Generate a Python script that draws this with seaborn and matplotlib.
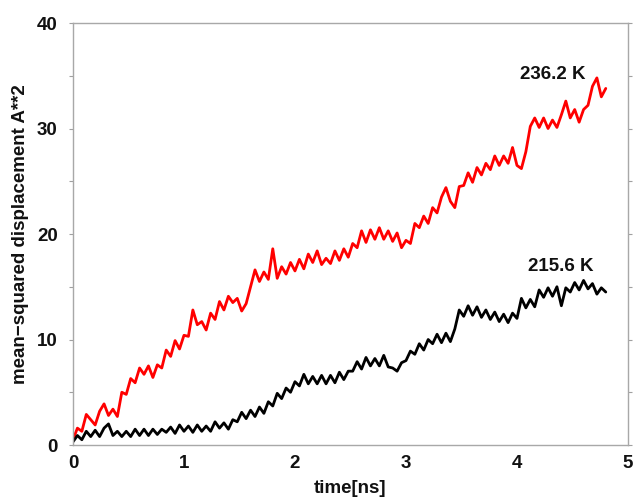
import numpy as np
import pandas as pd
import matplotlib
matplotlib.use("Agg")
import matplotlib.pyplot as plt
import seaborn as sns

# time grid (ns)
time_ns = [round(0.04 * i, 2) for i in range(121)]

msd_236 = [0.5, 1.6, 1.3, 2.9, 2.4, 1.9, 3.2, 3.9, 2.8, 3.4,
           2.7, 5.0, 4.8, 6.3, 5.9, 7.3, 6.7, 7.5, 6.4, 7.6,
           7.3, 9.0, 8.4, 9.9, 9.1, 10.4, 10.3, 12.8, 11.4, 11.7,
           10.9, 12.5, 11.9, 13.6, 12.8, 14.1, 13.5, 13.9, 12.7, 13.4,
           15.0, 16.6, 15.5, 16.4, 15.7, 18.6, 15.8, 16.9, 16.2, 17.3,
           16.5, 17.6, 16.7, 18.1, 17.3, 18.4, 17.1, 17.7, 17.2, 18.4,
           17.5, 18.6, 17.8, 19.1, 18.7, 20.3, 19.2, 20.4, 19.5, 20.6,
           19.5, 20.3, 19.3, 20.1, 18.7, 19.4, 19.1, 21.0, 20.6, 21.7,
           21.0, 22.5, 22.0, 23.5, 24.4, 23.1, 22.5, 24.5, 24.6, 25.8,
           24.9, 26.3, 25.6, 26.7, 26.1, 27.4, 26.5, 27.4, 26.7, 28.2,
           26.5, 26.2, 27.8, 30.2, 31.0, 30.1, 31.0, 30.0, 30.8, 30.1,
           31.3, 32.6, 31.0, 31.8, 30.6, 31.8, 32.2, 34.0, 34.8, 33.0,
           33.8]

msd_215 = [0.3, 0.9, 0.5, 1.3, 0.8, 1.4, 0.8, 1.6, 2.0, 0.9,
           1.3, 0.8, 1.3, 0.8, 1.5, 0.9, 1.5, 0.9, 1.5, 1.0,
           1.5, 1.2, 1.7, 1.1, 1.9, 1.3, 1.8, 1.2, 1.9, 1.3,
           1.8, 1.3, 2.2, 1.6, 2.1, 1.5, 2.4, 2.2, 3.1, 2.5,
           3.3, 2.7, 3.6, 3.0, 4.1, 3.7, 4.9, 4.4, 5.4, 5.0,
           6.0, 5.6, 6.7, 5.8, 6.5, 5.8, 6.6, 5.8, 6.6, 5.9,
           6.9, 6.2, 7.0, 7.0, 7.9, 7.2, 8.3, 7.5, 8.2, 7.5,
           8.5, 7.4, 7.3, 7.0, 7.8, 8.0, 8.9, 8.6, 9.6, 9.0,
           10.0, 9.6, 10.5, 9.7, 10.6, 9.8, 11.0, 12.8, 12.2, 13.2,
           12.3, 13.1, 12.1, 12.8, 11.9, 12.6, 11.7, 12.4, 11.6, 12.5,
           12.0, 13.9, 13.0, 13.8, 13.1, 14.7, 14.0, 14.9, 14.1, 15.0,
           13.2, 14.9, 14.5, 15.4, 14.7, 15.6, 14.8, 15.3, 14.3, 14.9,
           14.5]

series_labels = ["236.2 K", "215.6 K"]
x_ticks = [0, 1, 2, 3, 4, 5]
y_ticks = [0, 10, 20, 30, 40]

df = pd.DataFrame({
    "time": time_ns * 2,
    "msd": msd_236 + msd_215,
    "temp": [series_labels[0]] * len(time_ns) + [series_labels[1]] * len(time_ns),
})

sns.set_style("white")
plt.rcParams["font.family"] = ["Liberation Sans", "DejaVu Sans"]
plt.rcParams["text.color"] = "#111111"
plt.rcParams["axes.labelcolor"] = "#111111"
plt.rcParams["xtick.labelcolor"] = "#111111"
plt.rcParams["ytick.labelcolor"] = "#111111"

FS = 13.5
fig = plt.figure(figsize=(6.34, 4.98), dpi=100)
ax = fig.add_axes([0.1151, 0.1064, 0.8754, 0.8474])

sns.lineplot(data=df, x="time", y="msd", hue="temp",
             palette={series_labels[0]: "#ff0000", series_labels[1]: "#000000"},
             linewidth=2.0, legend=False, ax=ax, estimator=None, sort=False)

ax.set_xlim(0, 5)
ax.set_ylim(0, 40)
ax.set_xticks(x_ticks)
ax.set_yticks(y_ticks)
ax.set_yticks([5, 15, 25, 35], minor=True)
ax.set_xticklabels([str(v) for v in x_ticks], fontsize=FS, fontweight="bold")
ax.set_yticklabels([str(v) for v in y_ticks], fontsize=FS, fontweight="bold")
ax.tick_params(axis="x", which="both", length=0, pad=7)
ax.tick_params(axis="y", which="both", direction="out", length=3, width=0.8,
               color="#a0a0a0", left=True, right=True, pad=8)

for s in ax.spines.values():
    s.set_color("#a8a8a8")
    s.set_linewidth(1.0)

ax.set_xlabel("time[ns]", fontsize=FS, fontweight="bold", labelpad=6)
ax.set_ylabel("mean\u2212squared displacement A**2", fontsize=FS,
              fontweight="bold", labelpad=6)

ax.text(4.32, 35.1, series_labels[0], fontsize=FS, fontweight="bold",
        ha="center", va="center")
ax.text(4.39, 16.9, series_labels[1], fontsize=FS, fontweight="bold",
        ha="center", va="center")

fig.savefig("out.png", dpi=100)
